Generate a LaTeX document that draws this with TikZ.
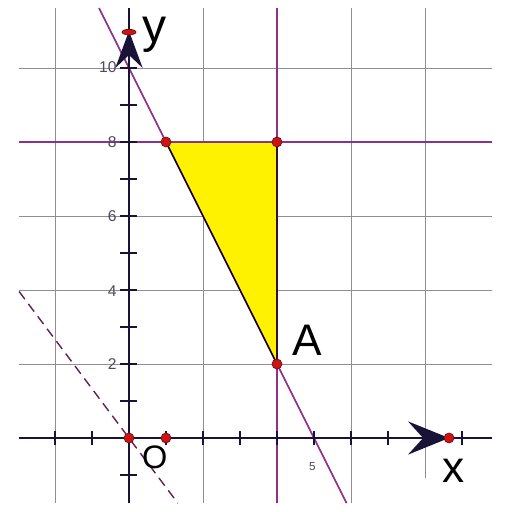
\documentclass[tikz,border=0pt]{standalone}
\usepackage{fontspec}
\setmainfont{Liberation Sans}
\usetikzlibrary{shapes.geometric}
\definecolor{gridc}{RGB}{145,140,155}
\definecolor{purp}{RGB}{140,50,140}
\definecolor{dpurp}{RGB}{105,30,85}
\definecolor{axisc}{RGB}{25,20,55}
\definecolor{dotc}{RGB}{205,20,20}
\definecolor{dotedge}{RGB}{110,10,10}
\definecolor{tickc}{RGB}{75,75,95}
\begin{document}
\begin{tikzpicture}[x=1cm,y=1cm,
  gridline/.style={gridc, line width=0.6pt},
  purpline/.style={purp, line width=1.3pt},
  dashline/.style={dpurp, line width=1.1pt, dash pattern=on 0.26cm off 0.16cm},
  axisline/.style={axisc, line width=1.8pt},
  tickmark/.style={axisc, line width=1.4pt},
  edgeline/.style={black, line width=1pt},
  pt/.style={circle, fill=dotc, draw=dotedge, line width=0.5pt, inner sep=0pt, minimum size=0.27cm},
  ticklabel/.style={text=tickc, font=\fontsize{12}{12}\selectfont, inner sep=0pt},
  biglabel/.style={text=black, inner sep=0pt}
]
\useasboundingbox (-3.486,-2) rectangle (10.351,11.838);
\fill[white] (-3.486,-2) rectangle (10.351,11.838);

% grid
\foreach \gx in {-2,2,6} \draw[gridline] (\gx,-1.76) -- (\gx,11.62);
\draw[gridline] (8,-1.08) -- (8,11.62);
\foreach \gy in {2,4,6,10} \draw[gridline] (-2.97,\gy) -- (9.81,\gy);

% key points
\coordinate (P) at (1,8);
\coordinate (Q) at (4,8);
\coordinate (A) at (4,2);
\coordinate (O) at (0,0);
\coordinate (B) at (1,0);

% feasible region
\fill[yellow] (P) -- (Q) -- (A) -- cycle;

% lines
\coordinate (h1) at (-2.97,8); \coordinate (h2) at (9.81,8);
\coordinate (v1) at (4,-1.76); \coordinate (v2) at (4,11.62);
\coordinate (l1) at (-0.81,11.62); \coordinate (l2) at (5.88,-1.76);
\coordinate (d1) at (-2.97,3.96); \coordinate (d2) at (1.32,-1.76);
\draw[purpline] (h1) -- (h2);
\draw[purpline] (v1) -- (v2);
\draw[purpline] (l1) -- (l2);
\draw[dashline] (d1) -- (d2);
\draw[edgeline] (P) -- (A) -- (Q);

% axes
\coordinate (xa1) at (-2.97,0); \coordinate (xa2) at (9.81,0);
\coordinate (ya1) at (0,-1.76); \coordinate (ya2) at (0,11.62);
\draw[axisline] (xa1) -- (xa2);
\draw[axisline] (ya1) -- (ya2);
\foreach \tx in {-2,-1,1,2,3,4,5,6,7,9} \draw[tickmark] (\tx,-0.2) -- (\tx,0.2);
\foreach \ty in {-1,1,2,3,4,5,6,7,8,9,10} \draw[tickmark] (-0.23,\ty) -- (0.23,\ty);

% arrowheads
\fill[axisc] (8.65,0) -- (7.54,0.45) -- (7.95,0) -- (7.54,-0.45) -- cycle;
\fill[axisc] (0,11.0) -- (-0.37,10.0) -- (0,10.35) -- (0.37,10.0) -- cycle;

% tick labels
\node[ticklabel, anchor=east] (t10) at (-0.33,10.03) {10};
\node[ticklabel, anchor=east] (t8) at (-0.33,8) {8};
\node[ticklabel, anchor=east] (t6) at (-0.33,6) {6};
\node[ticklabel, anchor=east] (t4) at (-0.33,3.98) {4};
\node[ticklabel, anchor=east] (t2) at (-0.33,2) {2};
\node[text=tickc, font=\fontsize{9}{9}\selectfont, inner sep=0pt] (t5) at (4.96,-0.76) {5};

% dots
\node[pt] (dP) at (P) {};
\node[pt] (dQ) at (Q) {};
\node[pt] (dA) at (A) {};
\node[pt] (dO) at (O) {};
\node[pt] (dB) at (B) {};
\node[pt] (dX) at (8.65,0) {};
\node[ellipse, fill=dotc, draw=dotedge, line width=0.5pt, inner sep=0pt, minimum width=0.38cm, minimum height=0.15cm] (dY) at (0,10.97) {};

% labels
\node[biglabel, font=\fontsize{37}{37}\selectfont] (ly) at (0.70,10.91) {y};
\node[biglabel, font=\fontsize{34}{34}\selectfont] (lx) at (8.76,-0.89) {x};
\node[biglabel, font=\fontsize{25}{25}\selectfont] (lO) at (0.70,-0.53) {O};
\node[biglabel, font=\fontsize{34}{34}\selectfont] (lA) at (4.82,2.65) {A};
\end{tikzpicture}
\end{document}
